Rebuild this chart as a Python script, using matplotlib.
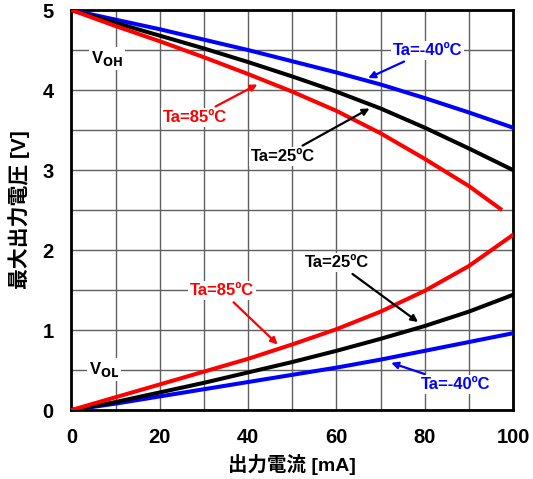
import matplotlib
matplotlib.use("Agg")
import matplotlib.pyplot as plt
import numpy as np

plt.rcParams['font.family'] = ['Liberation Sans', 'Noto Sans CJK JP', 'DejaVu Sans']
plt.rcParams['font.weight'] = 'bold'

# output current [mA]
current = [0, 10, 20, 30, 40, 50, 60, 70, 80, 90, 100]

# V_OH curves
voh_m40 = [5.0, 4.88, 4.76, 4.63, 4.50, 4.36, 4.22, 4.07, 3.90, 3.72, 3.53]
voh_25 = [5.0, 4.84, 4.68, 4.52, 4.35, 4.17, 3.98, 3.77, 3.53, 3.27, 3.00]
current_85 = [0, 10, 20, 30, 40, 50, 60, 70, 80, 90, 97.5]
voh_85 = [5.0, 4.80, 4.61, 4.41, 4.20, 3.98, 3.74, 3.46, 3.14, 2.80, 2.50]

# V_OL curves
vol_m40 = [0.0, 0.08, 0.17, 0.26, 0.35, 0.44, 0.53, 0.63, 0.74, 0.85, 0.96]
vol_25 = [0.0, 0.10, 0.22, 0.34, 0.47, 0.60, 0.74, 0.89, 1.05, 1.23, 1.44]
vol_85 = [0.0, 0.16, 0.32, 0.48, 0.64, 0.82, 1.01, 1.23, 1.49, 1.80, 2.19]

BLUE = "#0000ff"
RED = "#ff0000"
BLACK = "#000000"

fig = plt.figure(figsize=(5.33, 4.79), dpi=100)
ax = fig.add_axes([0.1341, 0.144, 0.8284, 0.835])

lw = 2.9
ax.plot(current, voh_m40, color=BLUE, lw=lw, zorder=3)
ax.plot(current, voh_25, color=BLACK, lw=lw, zorder=3)
ax.plot(current_85, voh_85, color=RED, lw=lw, zorder=3, solid_capstyle='butt')
ax.plot(current, vol_m40, color=BLUE, lw=lw, zorder=3)
ax.plot(current, vol_25, color=BLACK, lw=lw, zorder=3)
ax.plot(current, vol_85, color=RED, lw=lw, zorder=3)

ax.set_xlim(0, 100)
ax.set_ylim(0, 5)
ax.set_xticks(np.arange(0, 101, 20))
ax.set_yticks(np.arange(0, 6, 1))
ax.set_xticks(np.arange(0, 101, 10), minor=True)
ax.set_yticks(np.arange(0, 5.01, 0.5), minor=True)
ax.grid(True, which='both', color='#606060', lw=1.0)
ax.set_axisbelow(True)
ax.tick_params(which='both', length=0, labelsize=14.5, pad=13)
for lbl in ax.get_xticklabels() + ax.get_yticklabels():
    lbl.set_fontweight('bold')
for sp in ax.spines.values():
    sp.set_linewidth(2.0)

ax.set_xlabel("出力電流 [mA]", fontsize=14, fontweight='bold', labelpad=5)
ax.set_ylabel("最大出力電圧 [V]", fontsize=15, fontweight='bold', labelpad=9)

box = dict(facecolor='white', edgecolor='none', pad=1.5)
fs = 12


def note(text, xy, xytext, color):
    ax.annotate(text, xy=xy, xytext=xytext, color=color, fontsize=fs,
                fontweight='bold', ha='center', va='center', bbox=box, zorder=5,
                arrowprops=dict(arrowstyle='-|>', color=color, lw=1.6,
                                mutation_scale=10, shrinkA=2, shrinkB=0))


note("Ta=-40ºC", (67.2, 4.15), (80.6, 4.49), BLUE)
note("Ta=85ºC", (42.1, 4.07), (28.0, 3.66), RED)
note("Ta=25ºC", (67.5, 3.77), (47.9, 3.17), BLACK)
note("Ta=25ºC", (78.5, 1.10), (60.2, 1.84), BLACK)
note("Ta=85ºC", (46.7, 0.82), (34.0, 1.49), RED)
note("Ta=-40ºC", (72.4, 0.59), (87.0, 0.32), BLUE)

ax.text(8.0, 4.40, "V$_{\\mathbf{OH}}$", fontsize=12, fontweight='bold',
        ha='center', va='center', bbox=box, zorder=4)
ax.text(7.3, 0.51, "V$_{\\mathbf{OL}}$", fontsize=12, fontweight='bold',
        ha='center', va='center', bbox=box, zorder=4)

fig.savefig("out.png", dpi=100, facecolor="white")
